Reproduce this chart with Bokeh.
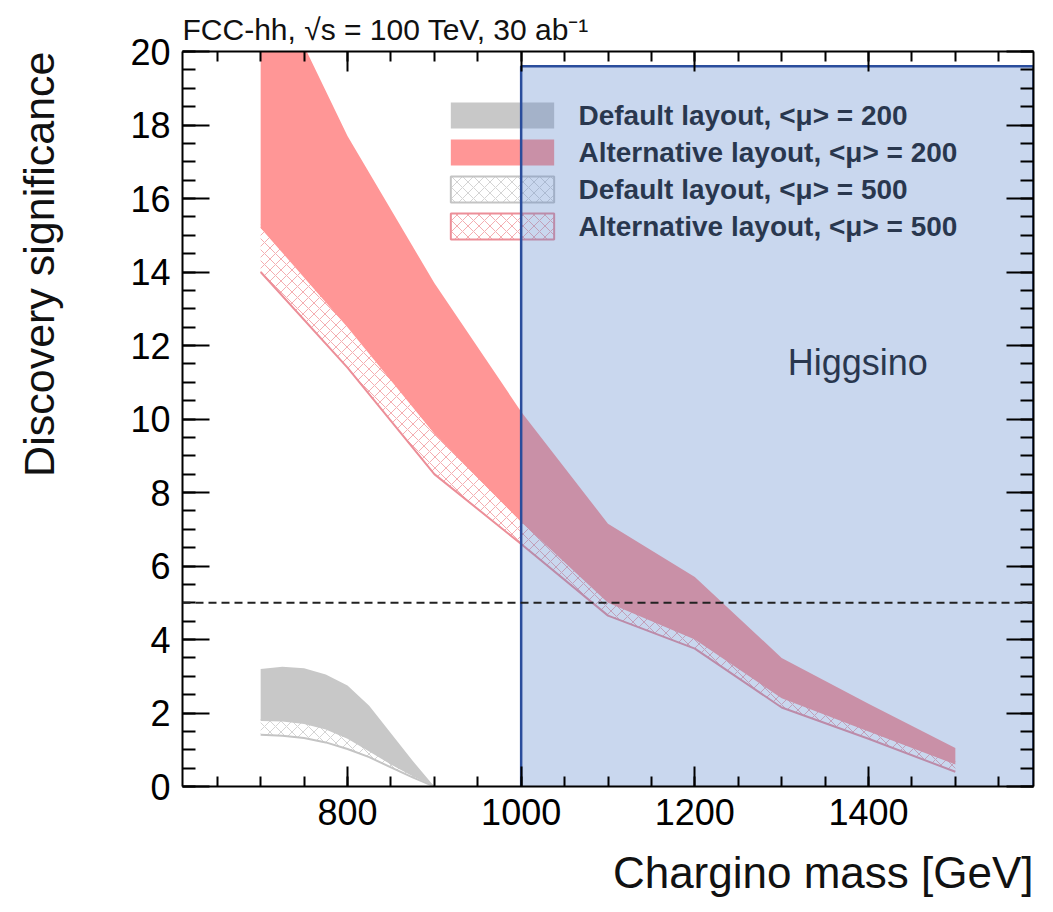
import math
from bokeh.plotting import figure
from bokeh.models import FixedTicker, LinearAxis, Span, Range1d, CustomJSTickFormatter, Title
from bokeh.core.properties import value
from bokeh.embed import file_html
from bokeh.resources import INLINE

# ---------------- data ----------------
alt_mass = [700, 800, 900, 1000, 1100, 1200, 1300, 1400, 1500]
alt200_up = [22.6, 17.7, 13.7, 10.2, 7.15, 5.7, 3.5, 2.25, 1.05]
alt200_lo = [15.2, 12.5, 9.6, 7.2, 5.0, 4.0, 2.4, 1.5, 0.6]
alt500_up = [15.3, 12.6, 9.7, 7.3, 5.1, 4.1, 2.5, 1.6, 0.7]
alt500_lo = [14.0, 11.4, 8.5, 6.6, 4.65, 3.75, 2.15, 1.3, 0.4]

def_mass = [700, 725, 750, 775, 800, 825, 850, 875, 900]
def200_up = [3.2, 3.26, 3.22, 3.05, 2.75, 2.2, 1.45, 0.7, 0.0]
def200_lo = [1.78, 1.77, 1.7, 1.55, 1.3, 0.95, 0.6, 0.28, 0.0]
def500_up = [1.85, 1.83, 1.77, 1.62, 1.4, 1.08, 0.7, 0.33, 0.0]
def500_lo = [1.41, 1.38, 1.32, 1.2, 1.02, 0.8, 0.52, 0.25, 0.0]

higgsino_min_mass = 1000
discovery_threshold = 5

legend_labels = ["Default layout, <μ> = 200", "Alternative layout, <μ> = 200",
                 "Default layout, <μ> = 500", "Alternative layout, <μ> = 500"]
x_major = [800, 1000, 1200, 1400]
x_minor = list(range(600, 1601, 50))
y_major = list(range(0, 21, 2))
y_minor = [i * 0.5 for i in range(41)]

title_text = "FCC-hh, √s = 100 TeV, 30 ab⁻¹"
x_title = "Chargino mass [GeV]"
y_title = "Discovery significance"

# ---------------- styles ----------------
FONT = "Liberation Sans"
RED = "#ff9696"
GRAY = "#c8c8c8"
RED_HATCH = "#f4adb1"
GRAY_HATCH = "#d4d4d4"
RED_LINE = "#ec8e98"
GRAY_LINE = "#c4c4c4"

XMIN, XMAX = 610, 1590
p = figure(width=1053, height=912, x_range=Range1d(XMIN, XMAX), y_range=Range1d(0, 20),
           output_backend="svg", toolbar_location=None,
           min_border_left=182, min_border_right=20, min_border_top=51, min_border_bottom=126)
p.xgrid.visible = False
p.ygrid.visible = False
p.outline_line_color = None
p.background_fill_color = "white"
p.border_fill_color = "white"

xt = FixedTicker(ticks=x_major, minor_ticks=x_minor)
yt = FixedTicker(ticks=y_major, minor_ticks=y_minor)
blank = CustomJSTickFormatter(code="return ''")


def style_axis(ax, major_in, minor_in):
    ax.axis_line_color = "black"
    ax.axis_line_width = 2
    ax.major_tick_in = major_in
    ax.major_tick_out = 0
    ax.minor_tick_in = minor_in
    ax.minor_tick_out = 0
    ax.major_tick_line_width = 2
    ax.minor_tick_line_width = 2
    ax.major_tick_line_color = "black"
    ax.minor_tick_line_color = "black"
    ax.major_label_text_font = FONT
    ax.major_label_text_font_size = "36px"
    ax.major_label_text_color = "black"


def spacer(ticker, gap):
    # invisible axis used only to push the axis title outwards
    ax = LinearAxis(ticker=ticker, formatter=blank)
    ax.axis_line_color = None
    ax.major_tick_line_color = None
    ax.minor_tick_line_color = None
    ax.major_tick_in = 0
    ax.minor_tick_in = 0
    ax.major_tick_out = gap
    ax.minor_tick_out = 0
    ax.major_label_standoff = 0
    ax.major_label_text_font_size = "0px"
    return ax


xa = p.xaxis[0]
xa.ticker = xt
style_axis(xa, 20, 10)
xa.major_label_standoff = 12

ya = p.yaxis[0]
ya.ticker = yt
style_axis(ya, 27, 13)
ya.major_label_standoff = 12

top_ax = LinearAxis(ticker=xt, formatter=blank)
style_axis(top_ax, 20, 10)
top_ax.major_label_standoff = 0
top_ax.major_label_text_font_size = "0px"
p.add_layout(top_ax, "above")
right_ax = LinearAxis(ticker=yt, formatter=blank)
style_axis(right_ax, 27, 13)
right_ax.major_label_standoff = 0
right_ax.major_label_text_font_size = "0px"
p.add_layout(right_ax, "right")

# spacers, then the titles outside them
p.add_layout(spacer(yt, 63), "left")
p.add_layout(spacer(xt, 18), "below")

p.title.text = title_text
p.title.align = "left"
p.title.text_font = FONT
p.title.text_font_size = "30px"
p.title.text_font_style = "normal"
p.title.text_color = "#111111"
p.title.standoff = 12

p.add_layout(Title(text=x_title, align="right", text_font=FONT, text_font_size="44px",
                   text_font_style="normal", text_color="#111111", standoff=0), "below")
p.add_layout(Title(text=y_title, align="right", text_font=FONT,
                   text_font_size="43px", text_font_style="normal", text_color="#111111",
                   standoff=4), "left")

# ---------------- bands ----------------
hatch = dict(hatch_pattern="diagonal_cross", hatch_scale=11, hatch_weight=1)
p.varea(x=alt_mass, y1=alt500_lo, y2=alt500_up, fill_color="white", hatch_color=RED_HATCH, **hatch)
p.line(alt_mass, alt500_lo, line_color=RED_LINE, line_width=2)
p.varea(x=def_mass, y1=def500_lo, y2=def500_up, fill_color="white", hatch_color=GRAY_HATCH, **hatch)
p.line(def_mass, def500_lo, line_color=GRAY_LINE, line_width=2)
p.varea(x=alt_mass, y1=alt200_lo, y2=alt200_up, fill_color=RED)
p.varea(x=def_mass, y1=def200_lo, y2=def200_up, fill_color=GRAY)

# ---------------- legend (drawn as glyphs so the overlay tints it) ----------------
leg_left, leg_right = 919, 1038
leg_top_center, leg_pitch, leg_half = 18.26, 1.007, 0.354
rows = [leg_top_center - i * leg_pitch for i in range(4)]
p.quad(left=leg_left, right=leg_right, bottom=rows[0] - leg_half, top=rows[0] + leg_half,
       fill_color=GRAY, line_color=None)
p.quad(left=leg_left, right=leg_right, bottom=rows[1] - leg_half, top=rows[1] + leg_half,
       fill_color=RED, line_color=None)
p.quad(left=leg_left, right=leg_right, bottom=rows[2] - leg_half, top=rows[2] + leg_half,
       fill_color="white", line_color=GRAY_LINE, line_width=2, hatch_color=GRAY_HATCH, **hatch)
p.quad(left=leg_left, right=leg_right, bottom=rows[3] - leg_half, top=rows[3] + leg_half,
       fill_color="white", line_color=RED_LINE, line_width=2, hatch_color=RED_HATCH, **hatch)
p.text(x=[1066] * 4, y=rows, text=legend_labels, text_font=value(FONT),
       text_font_style="bold", text_font_size="28px", text_baseline="middle",
       text_color="#111111")

p.text(x=[1307], y=[11.54], text=["Higgsino"], text_font=value(FONT),
       text_font_size="36px", text_baseline="middle", text_color="#111111")

# ---------------- Higgsino overlay ----------------
p.quad(left=[higgsino_min_mass], right=[XMAX], bottom=[-0.05], top=[19.6],
       fill_color="#5b85cb", fill_alpha=0.33, line_color="#2a4d9c", line_width=2.5)

p.add_layout(Span(location=discovery_threshold, dimension="width", line_color="#222222",
                  line_dash="8 5", line_width=2))

open("out.html", "w").write(file_html(p, INLINE))
